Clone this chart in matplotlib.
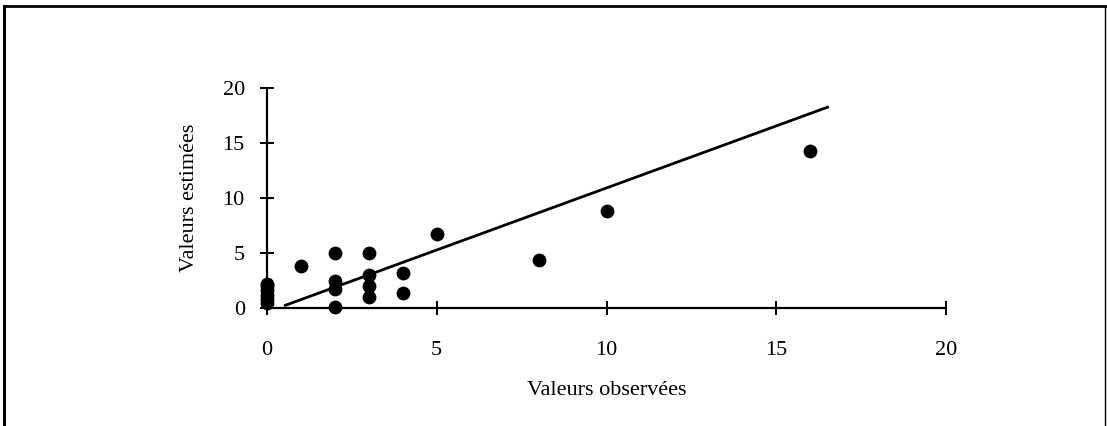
import matplotlib
matplotlib.use("Agg")
import matplotlib.pyplot as plt
from matplotlib.lines import Line2D

# Data
obs = [0, 0, 0, 0, 0, 0, 1, 2, 2, 2, 2, 3, 3, 3, 3, 4, 4, 5, 8, 10, 16]
est = [0.5, 0.8, 1.2, 1.6, 2.0, 2.2, 3.8, 5.0, 2.5, 1.7, 0.1, 5.0, 3.0, 2.0, 1.0, 3.2, 1.4, 6.7, 4.4, 8.8, 14.3]
fit_x = [0.5, 16.55]
fit_y = [0.2, 18.3]
ticks = [0, 5, 10, 15, 20]
xlabel = "Valeurs observées"
ylabel = "Valeurs estimées"

plt.rcParams['font.family'] = ['Liberation Serif', 'DejaVu Serif']

fig = plt.figure(figsize=(11.07, 4.26), dpi=100)
ax = fig.add_axes([267/1107, 118/426, 679/1107, 220/426])

ax.plot(fit_x, fit_y, color='black', lw=2.0, solid_capstyle='butt')
ax.scatter(obs, est, s=80, color='black', zorder=3, clip_on=False)

ax.set_xlim(0, 20)
ax.set_ylim(0, 20)
ax.set_xticks(ticks)
ax.set_yticks(ticks)
ax.set_xticklabels([str(t) for t in ticks])
ax.set_yticklabels([str(t) for t in ticks])
for s in ['top', 'right']:
    ax.spines[s].set_visible(False)
for s in ['left', 'bottom']:
    ax.spines[s].set_linewidth(1.6)
ax.tick_params(axis='both', direction='inout', length=10, width=1.4, labelsize=16)
ax.tick_params(axis='x', pad=19)
ax.tick_params(axis='y', pad=11)
ax.set_xlabel(xlabel, fontsize=16, labelpad=15)
ax.set_ylabel(ylabel, fontsize=16, labelpad=17)

# figure frame (left, top, right)
fig.add_artist(Line2D([4/1107, 4/1107], [0, 1 - 6/426], transform=fig.transFigure, color='black', lw=2.2))
fig.add_artist(Line2D([4/1107, 1105/1107], [1 - 6/426, 1 - 6/426], transform=fig.transFigure, color='black', lw=2.0))
fig.add_artist(Line2D([1105/1107, 1105/1107], [0, 1 - 6/426], transform=fig.transFigure, color='black', lw=1.0))

fig.savefig("out.png", dpi=100)
